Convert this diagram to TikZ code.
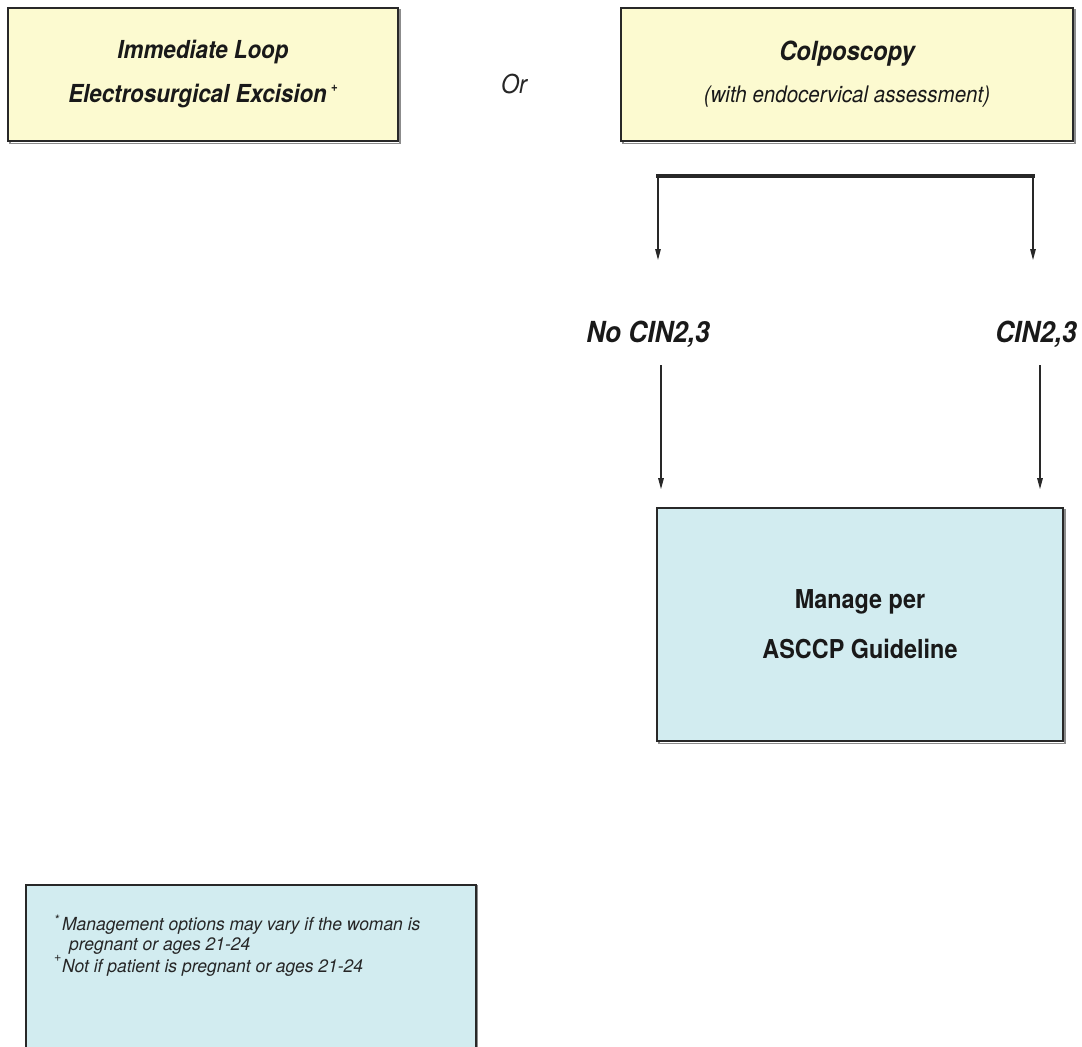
\documentclass[tikz,border=0pt]{standalone}
\usepackage{fontspec}
\setmainfont{TeX Gyre Heros}
\newfontfamily\hv{TeX Gyre Heros}[FakeStretch=0.9]
\newfontfamily\hvnote{TeX Gyre Heros}[FakeStretch=0.97]
\usetikzlibrary{arrows.meta,calc}

\definecolor{boxcream}{RGB}{252,250,208}
\definecolor{boxblue}{RGB}{210,236,240}
\definecolor{edge}{RGB}{40,40,40}

\tikzset{
  box/.style={draw=edge, line width=1.6pt, inner sep=0pt, align=center,
    text=black!90},
  ybox/.style={box, fill=boxcream},
  bbox/.style={box, fill=boxblue},
  shadowbox/.style={draw=black!45, line width=1.4pt},
  lbl/.style={inner sep=0pt, anchor=base, text=black!90,
    font=\hv\bfseries\itshape\fontsize{29}{34}\selectfont},
  note/.style={inner sep=0pt, anchor=base west, text=black!85,
    font=\hvnote\itshape\fontsize{18}{20}\selectfont},
  arr/.style={draw=edge, line width=1.3pt,
    -{Triangle[length=11pt,width=5.5pt]}},
  bar/.style={draw=edge, line width=3.4pt}
}

\begin{document}
\begin{tikzpicture}[x=1pt,y=-1pt]
\clip (0,0) rectangle (1082,1047);
\fill[white] (0,0) rectangle (1082,1047);

% drop shadows under the boxes
\draw[shadowbox] (10,10) rectangle (400,143.5);
\draw[shadowbox] (623,10) rectangle (1075,143.5);
\draw[shadowbox] (659,510) rectangle (1065,743.5);

% first-line options
\node[ybox, minimum width=390pt, minimum height=133pt,
  font=\hv\bfseries\itshape\fontsize{24.8}{44}\selectfont] (leep) at (203,74.5)
  {Immediate Loop\\Electrosurgical Excision\,\raisebox{0.45em}{\fontsize{13}{13}\selectfont+}};
\node[inner sep=0pt, anchor=base, text=black!85,
  font=\hv\itshape\fontsize{26}{30}\selectfont] (or) at (514,93) {Or};
\node[ybox, minimum width=452pt, minimum height=133pt,
  font=\hv\fontsize{26.4}{42}\selectfont] (colpo) at (847,74.5)
  {{\bfseries\itshape Colposcopy}\\
   {\itshape\fontsize{22.8}{42}\selectfont (with endocervical assessment)}};

% colposcopy outcomes
\coordinate (brL) at (658,176);
\coordinate (brR) at (1033,176);
\coordinate (tipL) at (658,260);
\coordinate (tipR) at (1033,260);
\draw[bar, line cap=rect] (brL) -- (brR);
\draw[arr] (brL) -- (tipL);
\draw[arr] (brR) -- (tipR);

\node[lbl] (nocin) at (648,342) {No CIN2,3};
\node[lbl] (cin) at (1036,342) {CIN2,3};

\node[bbox, minimum width=406pt, minimum height=233pt,
  font=\hv\bfseries\fontsize{26}{50}\selectfont] (manage) at (860,624.5)
  {Manage per\\ASCCP Guideline};

\coordinate (xl) at (661,0);
\coordinate (xr) at (1040,0);
\draw[arr, shorten <=18pt, shorten >=18pt] (nocin.south -| xl) -- (manage.north -| xl);
\draw[arr, shorten <=18pt, shorten >=18pt] (cin.south -| xr) -- (manage.north -| xr);

% footnotes
\draw[shadowbox] (27,886) rectangle (477,1070);
\node[bbox, minimum width=450pt, minimum height=180pt, anchor=north west] (notes) at (25,884) {};
\node[note] (n1) at (54,930) {\raisebox{0.3em}{\fontsize{13}{13}\selectfont*}\,Management options may vary if the woman is};
\node[note] (n2) at (69,950) {pregnant or ages 21-24};
\node[note, font=\hvnote\fontsize{13}{13}\selectfont] (n3p) at (54,961) {+};
\node[note] (n3) at (62,972) {Not if patient is pregnant or ages 21-24};
\end{tikzpicture}
\end{document}
